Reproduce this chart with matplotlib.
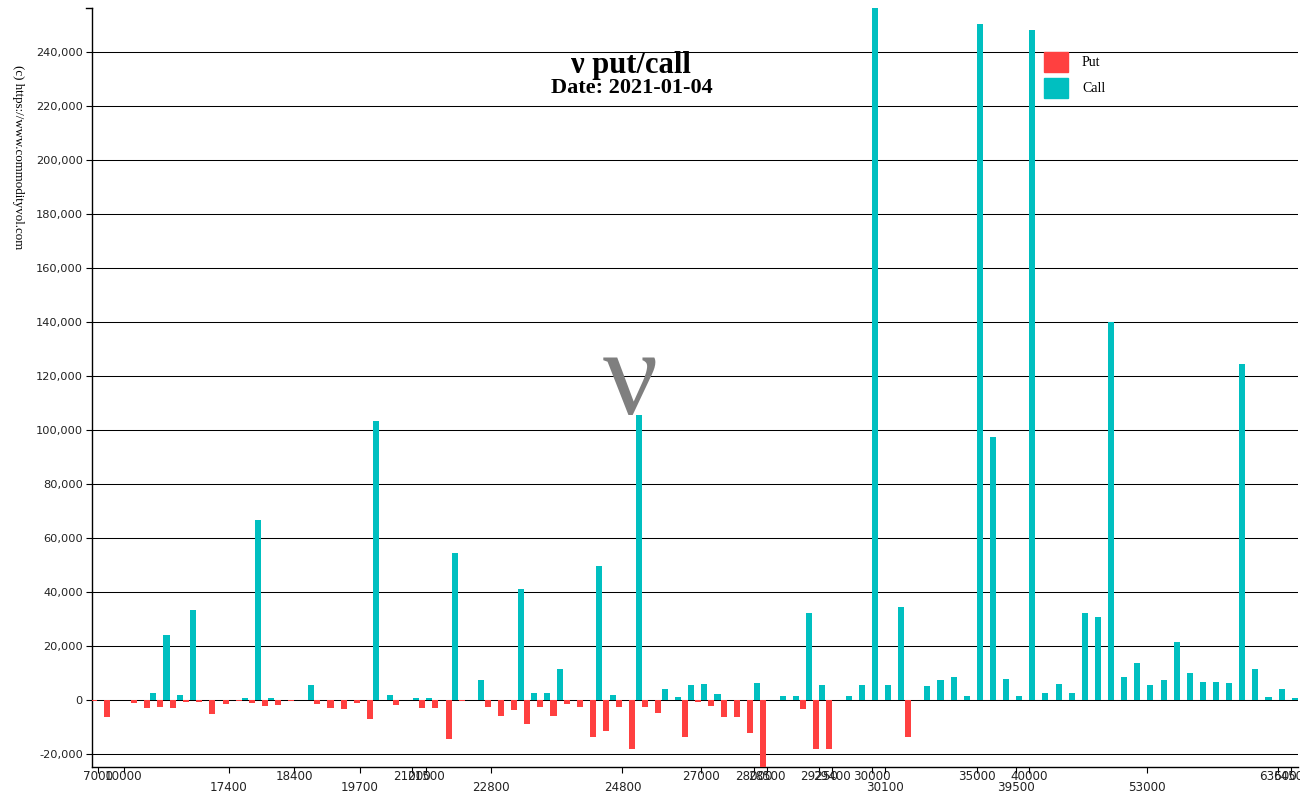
import matplotlib
matplotlib.use("Agg")
import matplotlib.pyplot as plt
from matplotlib.patches import Rectangle
import numpy as np

# ==========================================
# Open interest by strike (one band per strike, 92 strikes)
# ==========================================
put_oi = [400, 6200, 0, 1000, 3100, 2500, 3100, 600, 700, 5300,
          1400, 500, 1200, 2200, 2000, 250, 0, 1500, 2800, 3500,
          1200, 6900, 0, 2000, 0, 3100, 2800, 14400, 400, 0,
          2700, 5900, 3700, 8900, 2500, 5900, 1500, 2600, 13700, 11400,
          2700, 18000, 2700, 4900, 0, 13600, 900, 2100, 6200, 6200,
          12100, 25000, 0, 0, 3500, 18200, 18200, 0, 0, 0,
          0, 0, 13700, 0, 0, 0, 0, 0, 0, 0,
          0, 0, 0, 0, 0, 0, 0, 0, 0, 0,
          0, 0, 0, 0, 0, 0, 0, 0, 0, 0,
          0, 0]
call_oi = [0, 0, 0, 0, 2700, 24000, 1850, 33500, 0, 0,
           0, 750, 66500, 750, 0, 0, 5400, 0, 0, 0,
           0, 103200, 2000, 0, 600, 750, 0, 54300, 0, 7300,
           0, 0, 41000, 2700, 2700, 11500, 0, 0, 49700, 1850,
           0, 105500, 0, 4200, 1100, 5400, 5800, 2300, 0, 0,
           6200, 0, 1350, 1350, 32100, 5600, 0, 1350, 5600, 262000,
           5600, 34300, 0, 5300, 7300, 8600, 1500, 250500, 97600, 7800,
           1350, 248000, 2500, 5900, 2500, 32100, 30900, 140000, 8400, 13800,
           5600, 7500, 21400, 10000, 6800, 6500, 6300, 124600, 11500, 1200,
           4000, 600]

# strikes that carry a label on the axis (band index -> label), two label rows
row1_idx = [0, 2, 15, 24, 25, 46, 50, 51, 55, 56, 59, 67, 71, 90, 91]
row1_lab = ['7000', '10000', '18400', '21000', '21500', '27000', '28000', '28500',
            '29250', '29400', '30000', '35000', '40000', '63500', '64500']
row2_idx = [10, 20, 30, 40, 60, 70, 80]
row2_lab = ['17400', '19700', '22800', '24800', '30100', '39500', '53000']

yticks = list(range(-20000, 240001, 20000))

W, H = 1300, 795
fig = plt.figure(figsize=(W / 100, H / 100), dpi=100)
ax = fig.add_axes([92 / W, 28 / H, 1206 / W, 759 / H])

x = np.arange(len(call_oi))
bw = 0.46
put_col = '#ff4040'
call_col = '#00bfc0'
ax.bar(x - 0.25, -np.array(put_oi), width=bw, color=put_col, zorder=3)
ax.bar(x + 0.25, call_oi, width=bw, color=call_col, zorder=3)

ax.set_xlim(-0.43, 91.5)
ax.set_ylim(-24800, 256300)

for v in yticks:
    ax.axhline(v, color='black', lw=0.75, zorder=1)
ax.set_yticks(yticks)
ax.set_yticklabels([f'{v:,}' for v in yticks])
ax.tick_params(axis='y', direction='out', length=4.5, width=0.8, pad=2,
               labelsize=8.2, labelcolor='#222')

ax.set_xticks(row1_idx, row1_lab)
ax.set_xticks(row2_idx, row2_lab, minor=True)
ax.tick_params(axis='x', which='both', direction='out', length=4.5, width=0.8,
               labelsize=8.6, labelcolor='#222')
ax.tick_params(axis='x', which='major', pad=-2.7)
ax.tick_params(axis='x', which='minor', pad=5.3)

for s in ['top', 'right']:
    ax.spines[s].set_visible(False)
ax.spines['left'].set_linewidth(1.0)
ax.spines['bottom'].set_linewidth(1.0)
ax.plot([-0.005, 0], [1, 1], transform=ax.transAxes, color='black', lw=1.0, clip_on=False)

serif = ['Liberation Serif', 'DejaVu Serif']


def fx(px):
    return px / W


def fy(py):
    return 1 - py / H


fig.text(fx(631), fy(66), 'ν put/call', family=serif, weight='bold', fontsize=22,
         ha='center', va='center')
fig.text(fx(632), fy(88), 'Date: 2021-01-04', family=serif, weight='bold', fontsize=16,
         ha='center', va='center')
fig.text(fx(630), fy(384), 'ν', family=serif, fontsize=88, color='#7f7f7f',
         ha='center', va='center')
fig.text(fx(18), fy(157), '(c) https://www.commodityvol.com', family=serif, fontsize=9.3,
         rotation=-90, ha='center', va='center')

# legend
fig.patches.append(Rectangle((fx(1044), fy(72)), 24 / W, 20 / H, color=put_col,
                             transform=fig.transFigure))
fig.patches.append(Rectangle((fx(1044), fy(98)), 24 / W, 20 / H, color=call_col,
                             transform=fig.transFigure))
fig.text(fx(1082), fy(62), 'Put', family=serif, fontsize=10, ha='left', va='center')
fig.text(fx(1082), fy(88), 'Call', family=serif, fontsize=10, ha='left', va='center')

fig.savefig('out.png', dpi=100)
